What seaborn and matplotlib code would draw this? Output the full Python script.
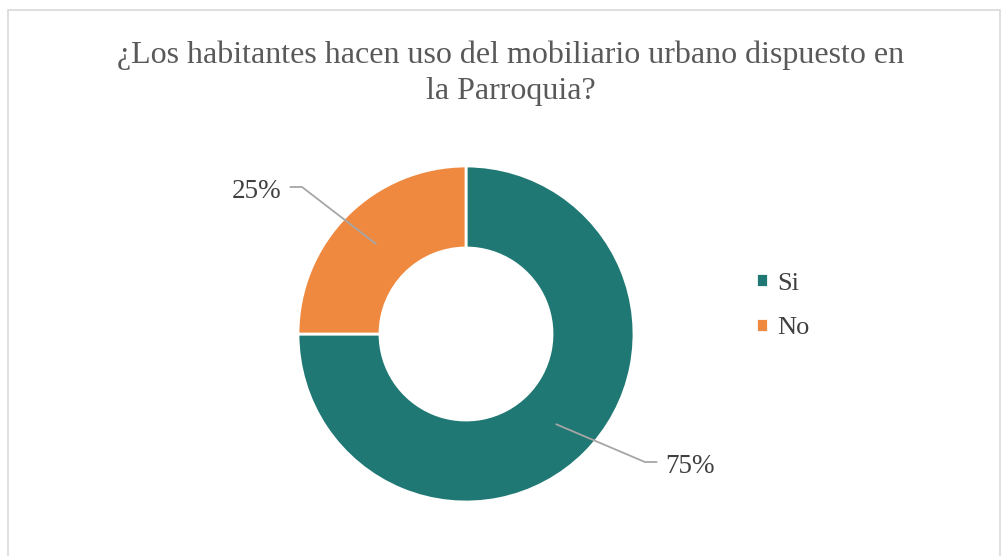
import numpy as np
import matplotlib
matplotlib.use("Agg")
import matplotlib.pyplot as plt
import matplotlib.patches as mpatches
import seaborn as sns

# data
categories = ["Si", "No"]
values = [75, 25]
colors = ["#1F7873", "#EF8940"]
title = "¿Los habitantes hacen uso del mobiliario urbano dispuesto en\nla Parroquia?"

sns.set_theme(style="white")
plt.rcParams["font.family"] = ["Liberation Serif", "DejaVu Serif"]

W, H = 1004, 556
fig = plt.figure(figsize=(W / 100, H / 100), dpi=100)

# outer border of the chart area
fig.patches.append(mpatches.Rectangle((8 / W, -0.05), 992 / W, 1.05 - 10 / H,
                                      transform=fig.transFigure, fill=False,
                                      edgecolor="#D9D9D9", linewidth=1.2))

# axes placed so the donut centre sits at (466, 334) px with radius 168 px
R = 168
cx, cy = 466, H - 334
xl, yl = 1.6, 1.3
ax = fig.add_axes([(cx - xl * R) / W, (cy - yl * R) / H, 2 * xl * R / W, 2 * yl * R / H])

wedges, _ = ax.pie(values, colors=colors, startangle=90, counterclock=False,
                   radius=1, wedgeprops=dict(width=0.488, edgecolor="white", linewidth=2))
ax.set_xlim(-xl, xl)
ax.set_ylim(-yl, yl)
ax.set_aspect("equal")
ax.axis("off")

# percentage labels with leader lines
total = sum(values)
elbows = [(1.065, -0.762), (-0.976, 0.875)]
for w, v, (ex, ey) in zip(wedges, values, elbows):
    ang = np.deg2rad((w.theta1 + w.theta2) / 2)
    px, py = 0.76 * np.cos(ang), 0.76 * np.sin(ang)
    side = np.sign(ex)
    endx = ex + side * 0.07
    ax.plot([px, ex, endx], [py, ey, ey], color="#A6A6A6", linewidth=1.3)
    ax.text(endx + side * 0.05, ey - 0.025, f"{v / total * 100:.0f}%", fontsize=19.5,
            color="#404040", ha="left" if side > 0 else "right", va="center")

fig.suptitle(title, x=511 / W, y=1 - 40 / H, fontsize=23, color="#595959",
             va="top", linespacing=1.35)

leg = fig.legend(wedges, categories, loc="center left", bbox_to_anchor=(732 / W, 1 - 306 / H),
                 frameon=False, fontsize=19, handlelength=0.45, handleheight=0.45,
                 labelspacing=0.85, handletextpad=0.35, labelcolor="#404040")

fig.savefig("out.png", dpi=100)
